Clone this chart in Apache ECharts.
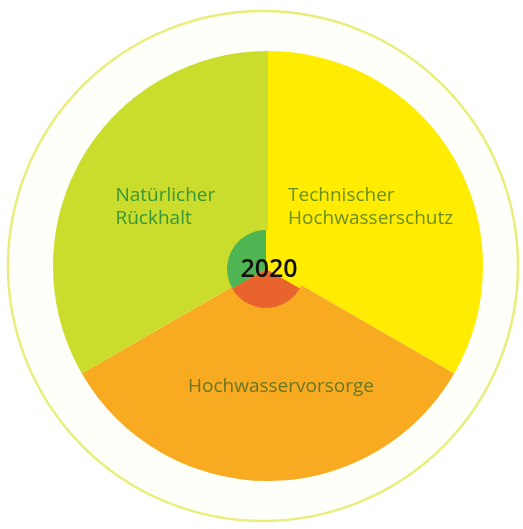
<!DOCTYPE html>
<html><head><meta charset="utf-8">
<script src="https://cdn.jsdelivr.net/npm/echarts@6/dist/echarts.min.js"></script>
<style>html,body{margin:0;padding:0;background:#fff}#c{width:523px;height:529px}</style>
</head><body><div id="c"></div>
<script>
const categories = ['Technischer\nHochwasserschutz', 'Hochwasservorsorge', 'Natürlicher\nRückhalt'];
const values = [1, 1, 1];
const colors = ['#ffec00', '#f8ab21', '#cadc2c'];
const labelColors = ['#6a8e1e', '#6a7622', '#379637'];
const labelOffsets = [[0, 0], [13, 2], [0, 0]];
const innerColors = ['#ffec00', '#e9642c', '#4fb552'];
const centerText = '2020';

const chart = echarts.init(document.getElementById('c'));
chart.setOption({
  backgroundColor: '#ffffff',
  animation: false,
  series: [
    {
      type: 'pie', silent: true, center: [263, 266], radius: [0, 255],
      label: {show: false}, labelLine: {show: false},
      data: [{value: 1, itemStyle: {color: '#fffffa', borderColor: '#e9ee7a', borderWidth: 2.5}}]
    },
    {
      type: 'pie', silent: true, center: [268, 266], radius: [16, 215],
      startAngle: 90, clockwise: true,
      itemStyle: {borderWidth: 0},
      label: {
        show: true, position: 'inside',
        formatter: p => p.name.split('\n').map(s => '{a|' + s + '}').join('\n')
      },
      labelLine: {show: false},
      data: categories.map((c, i) => ({
        name: c, value: values[i],
        itemStyle: {color: colors[i]},
        label: {offset: labelOffsets[i], color: labelColors[i], rich: {a: {color: labelColors[i], fontFamily: 'Open Sans', fontSize: 19, lineHeight: 23, align: 'left'}}}
      }))
    },
    {
      type: 'pie', silent: true, center: [266, 269], radius: [0, 39],
      startAngle: 90, clockwise: true,
      label: {show: false}, labelLine: {show: false},
      data: values.map((v, i) => ({value: v, itemStyle: {color: innerColors[i]}}))
    }
  ],
  graphic: [{
    type: 'text', x: 269, y: 270, z: 100,
    style: {text: centerText, fill: '#111', font: '600 25px "Open Sans"', textAlign: 'center', textVerticalAlign: 'middle'}
  }]
});
</script></body></html>
